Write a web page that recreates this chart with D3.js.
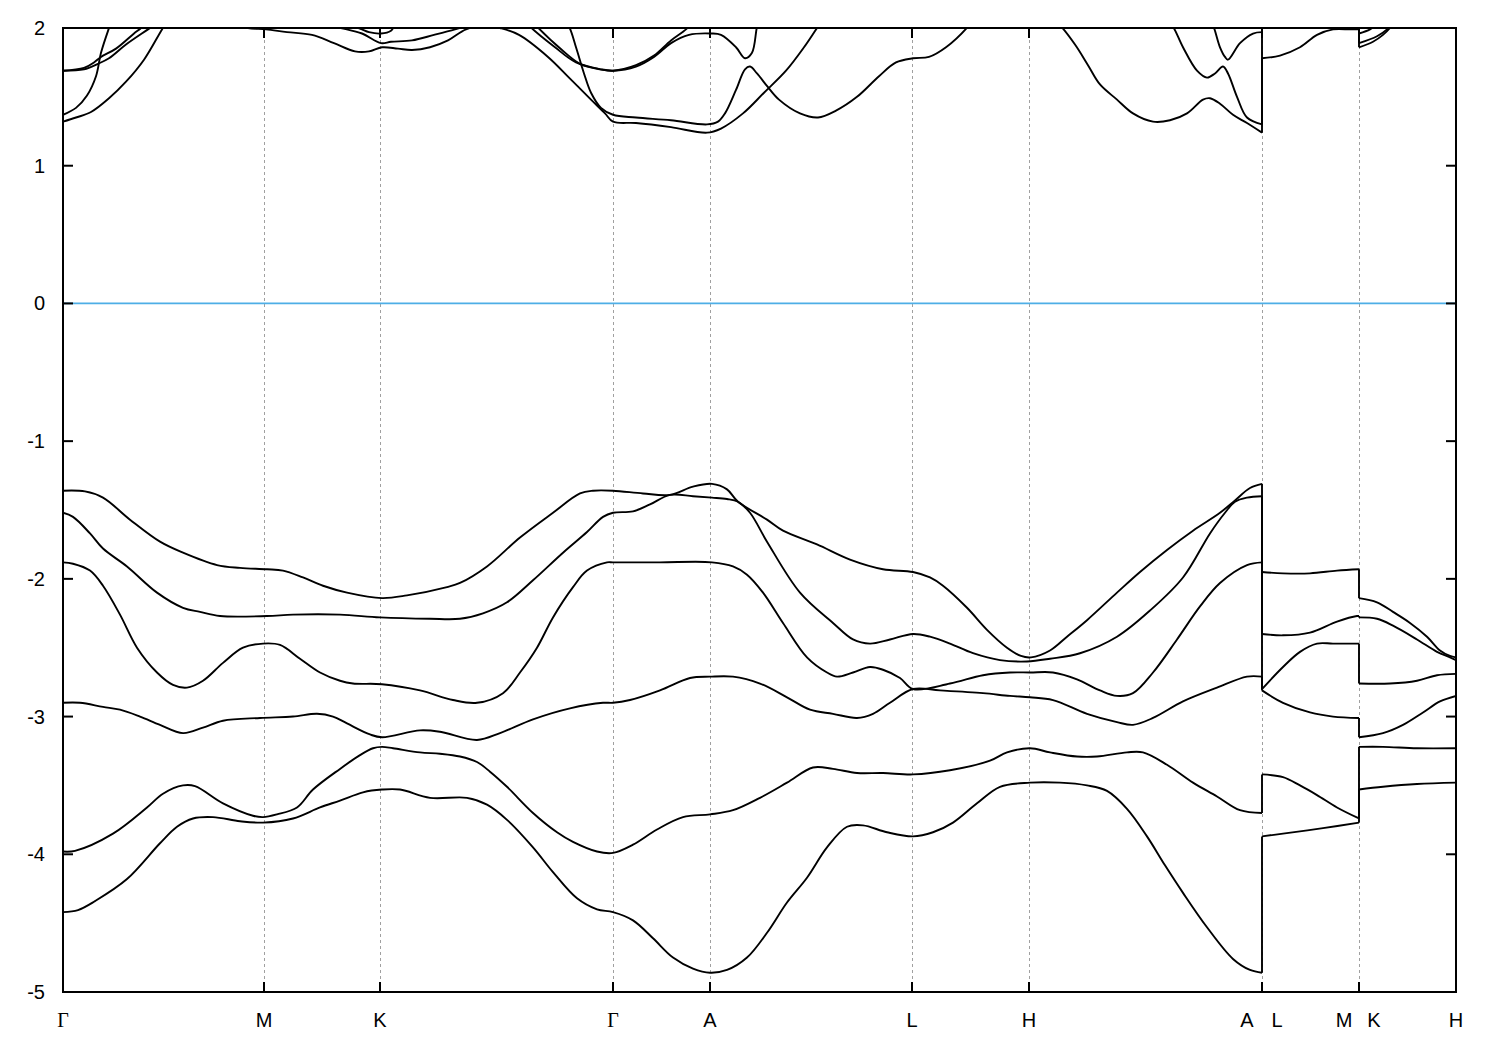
<!DOCTYPE html>
<html><head><meta charset="utf-8">
<script src="https://cdn.jsdelivr.net/npm/d3@7"></script>
<style>
body{margin:0;background:#fff}
text{font-family:"Liberation Sans",Arial,sans-serif;font-size:20px;fill:#000}
</style>
</head><body>
<svg id="c" width="1500" height="1050"></svg>
<script>
// high-symmetry k positions and labels
const kPoints = [0, 0.201, 0.317, 0.550, 0.647, 0.849, 0.966, 1.199, 1.296, 1.393];
const kLabels = ["Γ","M","K","Γ","A","L","H","A|L","M|K","H"];
const yTicks = [2,1,0,-1,-2,-3,-4,-5];

// valence bands [k, E]
const vb1 = [[0,-1.36],[0.022,-1.365],[0.040,-1.41],[0.067,-1.57],[0.097,-1.73],[0.120,-1.81],[0.154,-1.90],[0.177,-1.92],[0.204,-1.93],[0.220,-1.94],[0.240,-1.99],[0.260,-2.05],[0.284,-2.10],[0.319,-2.14],[0.344,-2.12],[0.384,-2.06],[0.397,-2.03],[0.424,-1.91],[0.457,-1.70],[0.490,-1.52],[0.517,-1.38],[0.530,-1.36],[0.550,-1.36],[0.580,-1.38],[0.607,-1.39],[0.630,-1.33],[0.649,-1.31],[0.664,-1.35],[0.675,-1.44],[0.704,-1.57],[0.720,-1.65],[0.754,-1.75],[0.787,-1.86],[0.820,-1.93],[0.850,-1.95],[0.867,-1.99],[0.880,-2.05],[0.904,-2.21],[0.924,-2.37],[0.944,-2.50],[0.958,-2.56],[0.968,-2.57],[0.987,-2.52],[1.004,-2.42],[1.024,-2.30],[1.054,-2.10],[1.077,-1.95],[1.104,-1.79],[1.130,-1.65],[1.157,-1.52],[1.172,-1.43],[1.187,-1.34],[1.199,-1.31],
  [1.199,-1.95],[1.220,-1.96],[1.247,-1.96],[1.274,-1.94],[1.296,-1.93],
  [1.296,-2.14],[1.314,-2.17],[1.330,-2.24],[1.347,-2.32],[1.364,-2.42],[1.377,-2.52],[1.387,-2.56],[1.393,-2.57]];
const vb2 = [[0,-1.52],[0.010,-1.55],[0.027,-1.67],[0.040,-1.78],[0.064,-1.91],[0.094,-2.10],[0.120,-2.21],[0.137,-2.24],[0.157,-2.27],[0.204,-2.27],[0.230,-2.26],[0.277,-2.26],[0.317,-2.28],[0.367,-2.29],[0.397,-2.29],[0.420,-2.25],[0.444,-2.17],[0.470,-2.01],[0.500,-1.81],[0.524,-1.66],[0.540,-1.55],[0.550,-1.52],[0.570,-1.51],[0.587,-1.46],[0.607,-1.39],[0.630,-1.40],[0.649,-1.41],[0.664,-1.42],[0.675,-1.44],[0.687,-1.52],[0.704,-1.73],[0.737,-2.10],[0.770,-2.32],[0.790,-2.44],[0.807,-2.47],[0.827,-2.44],[0.850,-2.40],[0.867,-2.42],[0.887,-2.47],[0.910,-2.54],[0.937,-2.59],[0.964,-2.60],[0.987,-2.58],[1.017,-2.54],[1.054,-2.42],[1.087,-2.23],[1.120,-1.99],[1.147,-1.67],[1.162,-1.52],[1.172,-1.44],[1.184,-1.41],[1.199,-1.40],
  [1.199,-2.40],[1.220,-2.41],[1.247,-2.39],[1.274,-2.31],[1.294,-2.27],[1.296,-2.27],
  [1.296,-2.28],[1.314,-2.29],[1.330,-2.34],[1.354,-2.44],[1.374,-2.53],[1.387,-2.57],[1.393,-2.59]];
const vb3 = [[0,-1.88],[0.010,-1.89],[0.027,-1.94],[0.040,-2.05],[0.057,-2.26],[0.074,-2.50],[0.094,-2.68],[0.110,-2.77],[0.124,-2.79],[0.140,-2.74],[0.160,-2.61],[0.180,-2.50],[0.200,-2.47],[0.217,-2.48],[0.237,-2.58],[0.257,-2.68],[0.277,-2.74],[0.290,-2.76],[0.319,-2.765],[0.357,-2.81],[0.390,-2.88],[0.414,-2.90],[0.440,-2.83],[0.457,-2.68],[0.474,-2.50],[0.490,-2.28],[0.510,-2.06],[0.524,-1.94],[0.544,-1.88],[0.550,-1.88],[0.597,-1.88],[0.649,-1.88],[0.670,-1.91],[0.684,-1.97],[0.700,-2.10],[0.720,-2.32],[0.744,-2.57],[0.764,-2.68],[0.774,-2.71],[0.790,-2.68],[0.807,-2.64],[0.820,-2.66],[0.837,-2.72],[0.850,-2.80],[0.887,-2.76],[0.920,-2.70],[0.947,-2.68],[0.967,-2.68],[0.990,-2.68],[1.014,-2.73],[1.037,-2.81],[1.054,-2.85],[1.070,-2.83],[1.090,-2.68],[1.114,-2.44],[1.137,-2.20],[1.157,-2.03],[1.184,-1.90],[1.199,-1.88],
  [1.199,-2.80],[1.220,-2.64],[1.237,-2.53],[1.254,-2.47],[1.270,-2.47],[1.296,-2.47],
  [1.296,-2.76],[1.327,-2.76],[1.354,-2.74],[1.374,-2.70],[1.393,-2.69]];
const vb4 = [[0,-2.90],[0.017,-2.90],[0.040,-2.93],[0.057,-2.95],[0.077,-3.00],[0.097,-3.06],[0.120,-3.12],[0.140,-3.08],[0.160,-3.03],[0.197,-3.01],[0.230,-3.00],[0.254,-2.98],[0.270,-3.00],[0.284,-3.05],[0.307,-3.13],[0.319,-3.15],[0.357,-3.10],[0.377,-3.11],[0.414,-3.17],[0.437,-3.12],[0.470,-3.02],[0.507,-2.94],[0.540,-2.90],[0.550,-2.90],[0.567,-2.88],[0.597,-2.81],[0.627,-2.72],[0.647,-2.71],[0.670,-2.71],[0.697,-2.76],[0.724,-2.86],[0.747,-2.95],[0.770,-2.98],[0.794,-3.01],[0.810,-2.98],[0.827,-2.90],[0.850,-2.80],[0.877,-2.81],[0.920,-2.83],[0.947,-2.85],[0.967,-2.86],[0.990,-2.88],[1.024,-2.98],[1.054,-3.04],[1.070,-3.06],[1.090,-3.01],[1.120,-2.89],[1.154,-2.79],[1.184,-2.71],[1.199,-2.71],
  [1.199,-2.81],[1.220,-2.90],[1.247,-2.97],[1.270,-3.00],[1.296,-3.01],
  [1.296,-3.15],[1.320,-3.12],[1.340,-3.06],[1.360,-2.97],[1.377,-2.89],[1.393,-2.85]];
const vb5 = [[0,-3.98],[0.012,-3.975],[0.050,-3.85],[0.084,-3.66],[0.100,-3.56],[0.120,-3.50],[0.132,-3.505],[0.160,-3.63],[0.190,-3.72],[0.200,-3.73],[0.214,-3.71],[0.234,-3.66],[0.250,-3.53],[0.277,-3.38],[0.297,-3.28],[0.310,-3.23],[0.319,-3.22],[0.330,-3.23],[0.357,-3.26],[0.377,-3.27],[0.397,-3.29],[0.414,-3.33],[0.427,-3.40],[0.444,-3.51],[0.470,-3.70],[0.494,-3.84],[0.510,-3.91],[0.534,-3.98],[0.550,-3.99],[0.570,-3.93],[0.594,-3.82],[0.620,-3.73],[0.647,-3.71],[0.670,-3.68],[0.697,-3.59],[0.724,-3.48],[0.750,-3.37],[0.770,-3.38],[0.794,-3.41],[0.820,-3.41],[0.850,-3.42],[0.887,-3.39],[0.927,-3.32],[0.944,-3.26],[0.967,-3.23],[0.987,-3.26],[1.014,-3.29],[1.034,-3.29],[1.064,-3.26],[1.080,-3.26],[1.104,-3.35],[1.130,-3.48],[1.154,-3.58],[1.177,-3.68],[1.199,-3.70],
  [1.199,-3.42],[1.220,-3.44],[1.237,-3.50],[1.254,-3.57],[1.274,-3.66],[1.296,-3.74],
  [1.296,-3.22],[1.320,-3.22],[1.354,-3.23],[1.393,-3.23]];
const vb6 = [[0,-4.42],[0.015,-4.405],[0.032,-4.34],[0.064,-4.18],[0.097,-3.92],[0.114,-3.80],[0.130,-3.74],[0.150,-3.73],[0.177,-3.76],[0.200,-3.77],[0.230,-3.74],[0.257,-3.66],[0.277,-3.61],[0.300,-3.55],[0.319,-3.53],[0.337,-3.53],[0.367,-3.59],[0.404,-3.59],[0.424,-3.64],[0.444,-3.75],[0.470,-3.95],[0.490,-4.13],[0.514,-4.32],[0.534,-4.40],[0.550,-4.42],[0.570,-4.48],[0.590,-4.61],[0.610,-4.75],[0.630,-4.83],[0.647,-4.86],[0.664,-4.84],[0.684,-4.75],[0.704,-4.57],[0.724,-4.35],[0.744,-4.17],[0.764,-3.95],[0.784,-3.80],[0.800,-3.79],[0.824,-3.84],[0.850,-3.87],[0.870,-3.84],[0.890,-3.77],[0.914,-3.63],[0.937,-3.51],[0.967,-3.48],[0.997,-3.48],[1.024,-3.50],[1.044,-3.54],[1.064,-3.67],[1.084,-3.87],[1.102,-4.08],[1.120,-4.28],[1.144,-4.53],[1.170,-4.76],[1.187,-4.84],[1.199,-4.86],
  [1.199,-3.87],[1.220,-3.85],[1.260,-3.81],[1.296,-3.77],
  [1.296,-3.53],[1.320,-3.51],[1.354,-3.49],[1.393,-3.48]];

// conduction band branches [k, E] (leave the window above 2 eV)
const cb1 = [[0,1.32],[0.013,1.35],[0.028,1.39],[0.046,1.49],[0.063,1.61],[0.081,1.77],[0.099,1.99],[0.107,2.08]];
const cb2 = [[0,1.37],[0.013,1.42],[0.024,1.51],[0.033,1.65],[0.038,1.82],[0.046,2.00],[0.050,2.08]];
const cb3 = [[0,1.69],[0.021,1.71],[0.031,1.75],[0.038,1.79],[0.053,1.85],[0.071,1.96],[0.078,2.00],[0.084,2.05]];
const cb4 = [[0,1.69],[0.021,1.70],[0.035,1.74],[0.046,1.78],[0.063,1.88],[0.085,1.99],[0.097,2.05]];
const cb5 = [[0.167,2.03],[0.185,2.00],[0.203,1.99],[0.224,1.97],[0.249,1.95],[0.271,1.89],[0.292,1.83],[0.306,1.83],[0.319,1.86],[0.335,1.85],[0.349,1.84],[0.367,1.86],[0.385,1.91],[0.403,1.99],[0.423,2.02],[0.437,2.00],[0.456,1.95],[0.485,1.79],[0.506,1.64],[0.528,1.48],[0.542,1.38],[0.550,1.32],[0.573,1.31],[0.608,1.28],[0.644,1.24],[0.658,1.27],[0.680,1.38],[0.701,1.53],[0.723,1.69],[0.741,1.86],[0.755,2.01],[0.762,2.08]];
const cb6 = [[0.500,2.06],[0.506,2.01],[0.513,1.86],[0.521,1.67],[0.528,1.53],[0.538,1.42],[0.550,1.37],[0.573,1.35],[0.608,1.33],[0.644,1.30],[0.655,1.32],[0.662,1.38],[0.673,1.55],[0.682,1.70],[0.687,1.72],[0.694,1.67],[0.705,1.57],[0.716,1.48],[0.737,1.38],[0.755,1.35],[0.773,1.40],[0.794,1.50],[0.816,1.65],[0.833,1.75],[0.850,1.78],[0.866,1.79],[0.883,1.86],[0.905,2.01],[0.912,2.08]];
const cb7 = [[0.462,2.05],[0.467,2.01],[0.492,1.86],[0.513,1.75],[0.538,1.70],[0.550,1.69],[0.573,1.72],[0.591,1.79],[0.608,1.89],[0.626,1.95],[0.648,1.96],[0.658,1.95],[0.673,1.86],[0.682,1.78],[0.689,1.82],[0.694,2.01],[0.697,2.08]];
const cb8 = [[0.469,2.05],[0.474,2.01],[0.499,1.84],[0.517,1.74],[0.537,1.70],[0.550,1.69],[0.573,1.73],[0.591,1.80],[0.608,1.91],[0.623,1.99],[0.631,2.05]];
const cb9 = [[0.267,2.02],[0.278,2.00],[0.299,1.96],[0.318,1.89],[0.328,1.90],[0.349,1.91],[0.371,1.95],[0.392,1.99],[0.406,2.02]];
const cb10 = [[0.292,2.01],[0.299,1.99],[0.306,1.97],[0.318,1.96],[0.328,1.98],[0.331,2.01],[0.336,2.04]];
const cb11 = [[0.992,2.05],[0.997,2.02],[1.012,1.88],[1.025,1.73],[1.037,1.59],[1.054,1.48],[1.070,1.38],[1.090,1.32],[1.107,1.33],[1.124,1.38],[1.140,1.48],[1.147,1.49],[1.157,1.45],[1.170,1.37],[1.184,1.31],[1.199,1.24],
  [1.199,1.78],[1.217,1.80],[1.237,1.86],[1.254,1.95],[1.270,1.99],[1.287,1.99],[1.296,1.99],
  [1.296,1.86],[1.310,1.90],[1.320,1.95],[1.327,2.00],[1.332,2.05]];
const cb12 = [[1.105,2.05],[1.110,2.01],[1.120,1.86],[1.134,1.69],[1.144,1.64],[1.152,1.67],[1.160,1.72],[1.165,1.67],[1.174,1.50],[1.184,1.35],[1.199,1.30],[1.199,2.05]];
const cb13 = [[1.147,2.05],[1.150,2.02],[1.157,1.86],[1.162,1.79],[1.165,1.77],[1.177,1.89],[1.190,1.96],[1.199,1.97],[1.199,2.05]];
const cb14 = [[1.296,2.05],[1.296,1.89],[1.314,1.94],[1.324,1.99],[1.330,2.04]];
const cb15 = [[1.296,2.05],[1.296,1.96],[1.307,1.99],[1.314,2.03]];

const bands = [vb1,vb2,vb3,vb4,vb5,vb6,cb1,cb2,cb3,cb4,cb5,cb6,cb7,cb8,cb9,cb10,cb11,cb12,cb13,cb14,cb15];

const L = 63, R = 1456, T = 28, B = 992;
const svg = d3.select("#c");
svg.append("rect").attr("width",1500).attr("height",1050).attr("fill","#fff");
const x = d3.scaleLinear().domain([0, kPoints[kPoints.length-1]]).range([L, R]);
const y = d3.scaleLinear().domain([-5, 2]).range([B, T]);

svg.append("clipPath").attr("id","clip").append("rect")
  .attr("x",L).attr("y",T).attr("width",R-L).attr("height",B-T);

// vertical dashed grid at high-symmetry points
svg.append("g").selectAll("line").data(kPoints.slice(1,-1)).join("line")
  .attr("x1",d=>x(d)+0.5).attr("x2",d=>x(d)+0.5).attr("y1",T).attr("y2",B)
  .attr("stroke","#a0a0a0").attr("stroke-width",1).attr("stroke-dasharray","3,3");

// Fermi level
svg.append("line").attr("x1",L).attr("x2",R).attr("y1",y(0)).attr("y2",y(0))
  .attr("stroke","#4eaee6").attr("stroke-width",1.8);

const gb = svg.append("g").attr("clip-path","url(#clip)")
  .attr("fill","none").attr("stroke","#000").attr("stroke-width",1.9).attr("stroke-linejoin","round");
const smooth = d3.line().x(d=>x(d[0])).y(d=>y(d[1])).curve(d3.curveCatmullRom.alpha(0.5));
const straight = d3.line().x(d=>x(d[0])).y(d=>y(d[1]));
bands.forEach(pts=>{
  const segs=[]; let cur=[pts[0]];
  for(let i=1;i<pts.length;i++){
    if(pts[i][0]===pts[i-1][0]){ segs.push(cur); cur=[pts[i]]; }
    else cur.push(pts[i]);
  }
  segs.push(cur);
  segs.forEach((s,i)=>{
    if(s.length>1) gb.append("path").attr("d",smooth(s));
    if(i>0){ const p=segs[i-1]; gb.append("path").attr("d",straight([p[p.length-1], s[0]])); }
  });
});

// frame
svg.append("rect").attr("x",L).attr("y",T).attr("width",R-L).attr("height",B-T)
  .attr("fill","none").attr("stroke","#000").attr("stroke-width",2);

// y ticks both sides
const gy = svg.append("g").attr("stroke","#000").attr("stroke-width",2);
yTicks.forEach(v=>{
  gy.append("line").attr("x1",L).attr("x2",L+10).attr("y1",y(v)).attr("y2",y(v));
  gy.append("line").attr("x1",R-10).attr("x2",R).attr("y1",y(v)).attr("y2",y(v));
});
svg.append("g").selectAll("text").data(yTicks).join("text")
  .attr("x",L-18).attr("y",d=>y(d)+7).attr("text-anchor","end").text(d=>d);

// x ticks top & bottom
const gx = svg.append("g").attr("stroke","#000").attr("stroke-width",2);
kPoints.forEach(k=>{
  gx.append("line").attr("x1",x(k)).attr("x2",x(k)).attr("y1",B).attr("y2",B-10);
  gx.append("line").attr("x1",x(k)).attr("x2",x(k)).attr("y1",T).attr("y2",T+10);
});
const gl = svg.append("g");
kPoints.forEach((k,i)=>{
  const parts = kLabels[i].split("|");
  const offs = parts.length===2 ? [-15,15] : [0];
  parts.forEach((p,j)=>{
    gl.append("text").attr("x",x(k)+offs[j]).attr("y",1027).attr("text-anchor","middle")
      .style("font-family", p==="Γ" ? "'Liberation Serif','DejaVu Serif',serif" : null)
      .text(p);
  });
});
</script>
</body></html>
